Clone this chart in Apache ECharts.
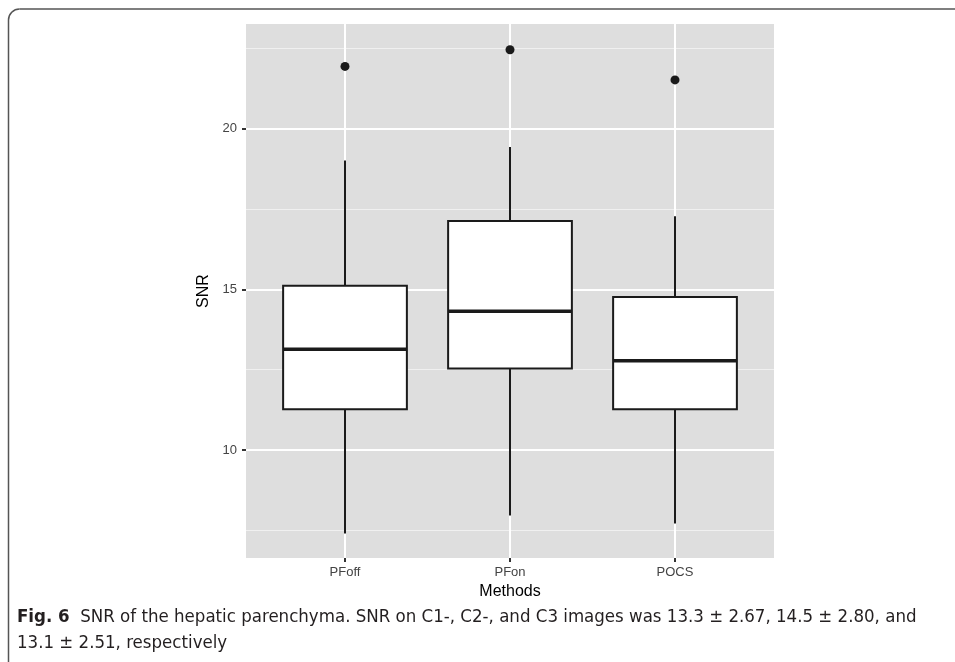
<!DOCTYPE html>
<html>
<head>
<meta charset="utf-8">
<script src="https://cdn.jsdelivr.net/npm/echarts@6/dist/echarts.min.js"></script>
<style>
html,body{margin:0;padding:0;background:#fff;}
#chart{width:955px;height:662px;}
</style>
</head>
<body>
<div id="chart"></div>
<script>
// ---- data ----
const categories = ['PFoff', 'PFon', 'POCS'];
const whiskerLow = [7.40, 7.96, 7.71];
const q1 = [11.27, 12.54, 11.27];
const median = [13.14, 14.32, 12.78];
const q3 = [15.11, 17.13, 14.76];
const whiskerHigh = [19.01, 19.43, 17.28];
const outliers = [21.94, 22.46, 21.52];
const yTicks = [10, 15, 20];
const yMinorGrid = [7.5, 12.5, 17.5, 22.5];

const boxData = categories.map((c, i) => [i + 1, whiskerLow[i], q1[i], median[i], q3[i], whiskerHigh[i]]);
const outlierData = outliers.map((v, i) => [i + 1, v]);

const chart = echarts.init(document.getElementById('chart'), null, {renderer: 'canvas'});
const ink = '#1a1a1a';

const option = {
  animation: false,
  grid: {left: 246, top: 24, width: 528, height: 534, show: true, backgroundColor: '#DEDEDE', borderWidth: 0},
  xAxis: {
    type: 'value', min: 0.4, max: 3.6,
    name: 'Methods', nameLocation: 'middle', nameGap: 26,
    nameTextStyle: {fontFamily: 'Liberation Sans, Arial, sans-serif', fontSize: 16, color: '#000'},
    axisLine: {show: false},
    axisTick: {show: true, customValues: [1, 2, 3], length: 4, lineStyle: {color: '#333', width: 2}},
    axisLabel: {customValues: [1, 2, 3], margin: 8, formatter: v => categories[Math.round(v) - 1],
      fontFamily: 'Liberation Sans, Arial, sans-serif', fontSize: 13, color: '#444'},
    splitLine: {show: false}
  },
  yAxis: {
    type: 'value', min: 6.64, max: 23.26,
    name: 'SNR', nameLocation: 'middle', nameGap: 31, nameRotate: 90,
    nameTextStyle: {fontFamily: 'Liberation Sans, Arial, sans-serif', fontSize: 16, color: '#000'},
    axisLine: {show: false},
    axisTick: {show: true, customValues: yTicks, length: 4, lineStyle: {color: '#333', width: 2}},
    axisLabel: {customValues: yTicks, margin: 9,
      fontFamily: 'Liberation Sans, Arial, sans-serif', fontSize: 13, color: '#444'},
    splitLine: {show: false}
  },
  series: [
    {
      type: 'line', data: [], z: 1, silent: true,
      markLine: {
        z: 1, silent: true, symbol: 'none', label: {show: false}, animation: false,
        data: [
          ...yMinorGrid.map(v => ({yAxis: v, lineStyle: {color: '#F0F0F0', width: 1, type: 'solid'}})),
          ...yTicks.map(v => ({yAxis: v, lineStyle: {color: '#FFFFFF', width: 2, type: 'solid'}})),
          ...categories.map((c, i) => ({xAxis: i + 1, lineStyle: {color: '#FFFFFF', width: 2, type: 'solid'}}))
        ]
      }
    },
    {
      type: 'custom', z: 3,
      data: boxData,
      encode: {x: 0, y: [1, 2, 3, 4, 5]},
      renderItem: function (params, api) {
        const x = api.value(0);
        const pLow = api.coord([x, api.value(1)]);
        const pQ1 = api.coord([x, api.value(2)]);
        const pMed = api.coord([x, api.value(3)]);
        const pQ3 = api.coord([x, api.value(4)]);
        const pHigh = api.coord([x, api.value(5)]);
        const hw = api.size([0.75, 0])[0] / 2;
        const cx = pQ1[0];
        return {
          type: 'group',
          children: [
            {type: 'line', shape: {x1: cx, y1: pHigh[1], x2: cx, y2: pQ3[1]}, style: {stroke: ink, lineWidth: 2}},
            {type: 'line', shape: {x1: cx, y1: pQ1[1], x2: cx, y2: pLow[1]}, style: {stroke: ink, lineWidth: 2}},
            {type: 'rect', shape: {x: cx - hw, y: pQ3[1], width: 2 * hw, height: pQ1[1] - pQ3[1]},
              style: {fill: '#fff', stroke: ink, lineWidth: 2}},
            {type: 'line', shape: {x1: cx - hw, y1: pMed[1], x2: cx + hw, y2: pMed[1]}, style: {stroke: ink, lineWidth: 3.5}}
          ]
        };
      }
    },
    {
      type: 'scatter', z: 4, data: outlierData, symbol: 'circle', symbolSize: 9,
      itemStyle: {color: ink, opacity: 1}
    }
  ],
  graphic: [
    {type: 'line', silent: true, shape: {x1: 8.5, y1: 20, x2: 8.5, y2: 662}, style: {stroke: '#555', lineWidth: 1.5}},
    {type: 'line', silent: true, shape: {x1: 19.5, y1: 9, x2: 955, y2: 9}, style: {stroke: '#555', lineWidth: 1.5}},
    {type: 'arc', silent: true, shape: {cx: 19.5, cy: 20, r: 11, startAngle: Math.PI, endAngle: 1.5 * Math.PI},
      style: {stroke: '#555', lineWidth: 1.5, fill: null}},
    {
      type: 'text', left: 17, top: 604, silent: true,
      style: {
        text: '{b|Fig. 6}  SNR of the hepatic parenchyma. SNR on C1-, C2-, and C3 images was 13.3 \u00B1 2.67, 14.5 \u00B1 2.80, and\n13.1 \u00B1 2.51, respectively',
        fontFamily: 'Liberation Sans Narrow, DejaVu Sans Condensed, sans-serif', fontSize: 18.5, lineHeight: 26, fill: '#231F20',
        rich: {b: {fontWeight: 'bold', fontFamily: 'Liberation Sans Narrow, DejaVu Sans Condensed, sans-serif', fontSize: 18.5, fill: '#231F20', lineHeight: 26}}
      }
    }
  ]
};
chart.setOption(option);
</script>
</body>
</html>
